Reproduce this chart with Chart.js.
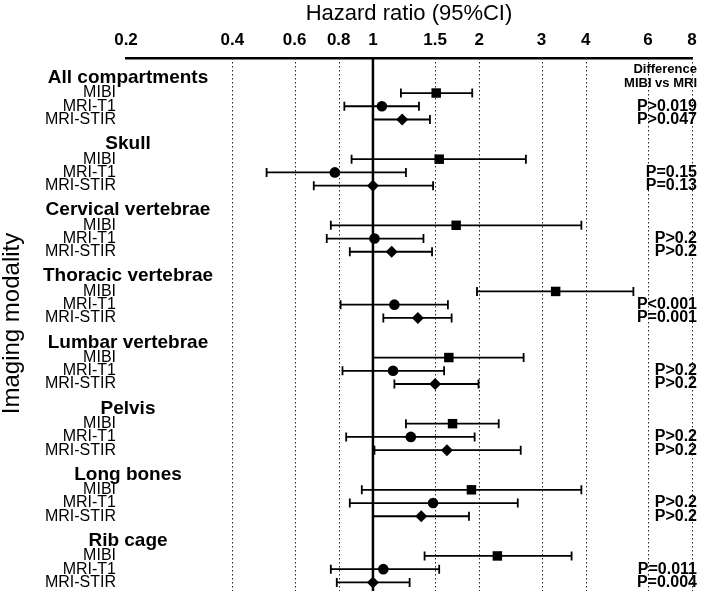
<!DOCTYPE html>
<html>
<head>
<meta charset="utf-8">
<title>Hazard ratio by compartment</title>
<script src="https://cdn.jsdelivr.net/npm/chart.js@4.4.1/dist/chart.umd.min.js"></script>
<style>
  body { margin: 0; background: #fff; }
  #chartBox { width: 702px; height: 597px; }
</style>
</head>
<body>
<div id="chartBox"><canvas id="forestChart" width="702" height="597"></canvas></div>
<script>
'use strict';

let groups = ['All compartments', 'Skull', 'Cervical vertebrae', 'Thoracic vertebrae',
    'Lumbar vertebrae', 'Pelvis', 'Long bones', 'Rib cage'];
let modalities = ['MIBI', 'MRI-T1', 'MRI-STIR'];
let xTicks = [0.2, 0.4, 0.6, 0.8, 1, 1.5, 2, 3, 4, 6, 8];

let mibiHR = [1.51, 1.54, 1.72, 3.29, 1.64, 1.68, 1.90, 2.25];
let mibiLo = [1.20, 0.87, 0.76, 1.97, 1.00, 1.24, 0.93, 1.40];
let mibiHi = [1.91, 2.71, 3.89, 5.46, 2.67, 2.27, 3.89, 3.65];

let t1HR = [1.06, 0.78, 1.01, 1.15, 1.14, 1.28, 1.48, 1.07];
let t1Lo = [0.83, 0.50, 0.74, 0.81, 0.82, 0.84, 0.86, 0.76];
let t1Hi = [1.35, 1.24, 1.39, 1.63, 1.59, 1.94, 2.57, 1.54];

let stirHR = [1.21, 1.00, 1.13, 1.34, 1.50, 1.62, 1.37, 1.00];
let stirLo = [1.00, 0.68, 0.86, 1.07, 1.15, 1.01, 1.00, 0.79];
let stirHi = [1.45, 1.48, 1.47, 1.67, 1.99, 2.62, 1.87, 1.27];

let t1P = ['P>0.019', 'P=0.15', 'P>0.2', 'P<0.001', 'P>0.2', 'P>0.2', 'P>0.2', 'P=0.011'];
let stirP = ['P>0.047', 'P=0.13', 'P>0.2', 'P=0.001', 'P>0.2', 'P>0.2', 'P>0.2', 'P=0.004'];

let fontFamily = "'Liberation Sans', Arial, sans-serif";

// each group takes 5 row units: gap + title, then the three modalities
let groupSize = 5;

function rowOf(g, k) {
    return g * groupSize + 2 + k;
}

function headerRow(g) {
    return g * groupSize + 0.85;
}

function makePoints(hr, lo, hi, k) {
    let pts = [];
    for (let g = 0; g < hr.length; g++) {
        pts.push({ x: hr[g], y: rowOf(g, k), lo: lo[g], hi: hi[g] });
    }
    return pts;
}

// dotted grid, the line at 1 and the CI whiskers, under the markers
let forestLines = {
    id: 'forestLines',
    beforeDatasetsDraw(chart) {
        let ctx = chart.ctx;
        let xs = chart.scales.x;
        let ys = chart.scales.y;
        let area = chart.chartArea;
        ctx.save();
        ctx.strokeStyle = '#222';
        ctx.lineWidth = 1;
        ctx.setLineDash([1.5, 2.5]);
        for (let i = 0; i < xTicks.length; i++) {
            if (xTicks[i] === 0.2 || xTicks[i] === 1) continue;
            let px = Math.round(xs.getPixelForValue(xTicks[i])) + 0.5;
            ctx.beginPath();
            ctx.moveTo(px, area.top);
            ctx.lineTo(px, area.bottom + 2);
            ctx.stroke();
        }
        ctx.setLineDash([]);
        ctx.strokeStyle = '#000';
        ctx.lineWidth = 2.5;
        let one = xs.getPixelForValue(1);
        ctx.beginPath();
        ctx.moveTo(one, area.top);
        ctx.lineTo(one, area.bottom + 2);
        ctx.stroke();

        ctx.lineWidth = 1.8;
        chart.data.datasets.forEach(function (ds) {
            ds.data.forEach(function (p) {
                let py = ys.getPixelForValue(p.y);
                let x1 = xs.getPixelForValue(p.lo);
                let x2 = xs.getPixelForValue(p.hi);
                ctx.beginPath();
                ctx.moveTo(x1, py);
                ctx.lineTo(x2, py);
                ctx.moveTo(x1, py - 4.5);
                ctx.lineTo(x1, py + 4.5);
                ctx.moveTo(x2, py - 4.5);
                ctx.lineTo(x2, py + 4.5);
                ctx.stroke();
            });
        });
        ctx.restore();
    }
};

// group titles and the p-value column
let forestText = {
    id: 'forestText',
    afterDraw(chart) {
        let ctx = chart.ctx;
        let ys = chart.scales.y;
        let right = chart.width - 5;
        ctx.save();
        ctx.fillStyle = '#000';
        ctx.textBaseline = 'middle';

        ctx.font = 'bold 19px ' + fontFamily;
        ctx.textAlign = 'center';
        for (let g = 0; g < groups.length; g++) {
            ctx.fillText(groups[g], 128, ys.getPixelForValue(headerRow(g)));
        }

        ctx.textAlign = 'right';
        ctx.font = 'bold 13px ' + fontFamily;
        let top = ys.getPixelForValue(headerRow(0));
        ctx.fillText('Difference', right, top - 8);
        ctx.fillText('MIBI vs MRI', right, top + 6);

        ctx.font = 'bold 16px ' + fontFamily;
        for (let g = 0; g < groups.length; g++) {
            ctx.fillText(t1P[g], right, ys.getPixelForValue(rowOf(g, 1)));
            ctx.fillText(stirP[g], right, ys.getPixelForValue(rowOf(g, 2)));
        }
        ctx.restore();
    }
};

let ctx = document.getElementById('forestChart').getContext('2d');
let forestChart = new Chart(ctx, {
    type: 'scatter',
    data: {
        datasets: [{
            label: 'MIBI',
            data: makePoints(mibiHR, mibiLo, mibiHi, 0),
            pointStyle: 'rect',
            pointRadius: 6.7,
            backgroundColor: '#000',
            borderColor: '#000',
            borderWidth: 0
        }, {
            label: 'MRI-T1',
            data: makePoints(t1HR, t1Lo, t1Hi, 1),
            pointStyle: 'circle',
            pointRadius: 5.3,
            backgroundColor: '#000',
            borderColor: '#000',
            borderWidth: 0
        }, {
            label: 'MRI-STIR',
            data: makePoints(stirHR, stirLo, stirHi, 2),
            pointStyle: 'rectRot',
            pointRadius: 6,
            backgroundColor: '#000',
            borderColor: '#000',
            borderWidth: 0
        }]
    },
    options: {
        responsive: false,
        animation: false,
        events: [],
        clip: false,
        layout: { padding: { left: 0, right: 10, top: 0, bottom: 8 } },
        plugins: {
            legend: { display: false },
            tooltip: { enabled: false }
        },
        scales: {
            x: {
                type: 'logarithmic',
                position: 'top',
                min: 0.2,
                max: 8,
                afterBuildTicks: function (scale) {
                    scale.ticks = xTicks.map(v => ({ value: v }));
                },
                afterFit: function (scale) {
                    scale.height = 58;
                    scale.paddingLeft = 0;
                    scale.paddingRight = 0;
                },
                grid: { display: false, drawTicks: false },
                border: { display: true, color: '#000', width: 2.5 },
                ticks: {
                    autoSkip: false,
                    maxRotation: 0,
                    padding: 7,
                    color: '#000',
                    font: { family: fontFamily, size: 17, weight: 'bold' },
                    callback: function (value) {
                        return String(value);
                    }
                },
                title: {
                    display: true,
                    text: 'Hazard ratio (95%CI)',
                    color: '#000',
                    padding: { top: 1, bottom: 0 },
                    font: { family: fontFamily, size: 22 }
                }
            },
            y: {
                type: 'linear',
                reverse: true,
                min: -0.65,
                max: groups.length * groupSize - 0.5,
                afterBuildTicks: function (scale) {
                    let t = [];
                    for (let g = 0; g < groups.length; g++) {
                        for (let k = 0; k < modalities.length; k++) {
                            t.push({ value: rowOf(g, k) });
                        }
                    }
                    scale.ticks = t;
                },
                afterFit: function (scale) {
                    scale.width = 126;
                    scale.paddingTop = 0;
                    scale.paddingBottom = 0;
                },
                grid: { display: false, drawTicks: false },
                border: { display: false },
                ticks: {
                    autoSkip: false,
                    padding: 10,
                    color: '#000',
                    font: { family: fontFamily, size: 16 },
                    callback: function (value) {
                        return modalities[(value - 2) % groupSize];
                    }
                },
                title: {
                    display: true,
                    text: 'Imaging modality',
                    color: '#000',
                    padding: { top: 0, bottom: 0 },
                    font: { family: fontFamily, size: 24, lineHeight: 1 }
                }
            }
        }
    },
    plugins: [forestLines, forestText]
});
console.log(forestChart.chartArea);
</script>
</body>
</html>
